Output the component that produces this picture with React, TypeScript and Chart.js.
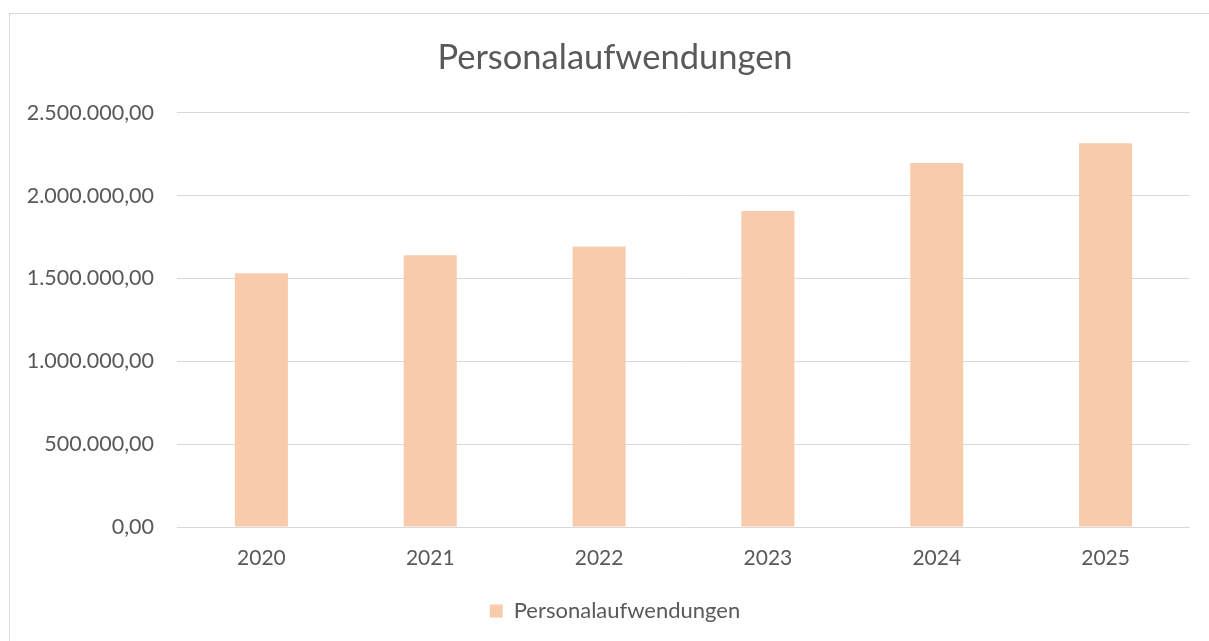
import React, { useEffect, useRef } from "react";
import { Chart, registerables } from "chart.js";

Chart.register(...registerables);

const categories = ["2020", "2021", "2022", "2023", "2024", "2025"];
const seriesName = "Personalaufwendungen";
const values = [1532000, 1641000, 1693000, 1908000, 2198000, 2317000];
const chartTitle = "Personalaufwendungen";

const FONT = "Lato, 'Open Sans', sans-serif";
const TEXT = "#595959";
const GRID = "#d9d9d9";
const BAR = "#f8cbad";

function fmtDE(v: number): string {
  const fixed = Math.abs(v).toFixed(2);
  const [intPart, dec] = fixed.split(".");
  const withDots = intPart.replace(/\B(?=(\d{3})+(?!\d))/g, ".");
  return (v < 0 ? "-" : "") + withDots + "," + dec;
}

export default function App() {
  const ref = useRef<HTMLCanvasElement | null>(null);

  useEffect(() => {
    if (!ref.current) return;
    const chart = new Chart(ref.current, {
      type: "bar",
      data: {
        labels: categories,
        datasets: [
          {
            label: seriesName,
            data: values,
            backgroundColor: BAR,
            borderWidth: 0,
            categoryPercentage: 1,
            barPercentage: 0.314,
          },
        ],
      },
      options: {
        animation: false,
        responsive: false,
        maintainAspectRatio: false,
        layout: { padding: { left: 30, right: 30, top: 0, bottom: 9 } },
        plugins: {
          title: {
            display: true,
            text: chartTitle,
            color: TEXT,
            font: { family: FONT, size: 34.5, weight: "normal" },
            padding: { top: 23, bottom: 34.5 },
          },
          legend: {
            display: true,
            position: "bottom",
            labels: {
              color: TEXT,
              font: { family: FONT, size: 22 },
              boxWidth: 13,
              boxHeight: 13,
              padding: 10,
            },
          },
          tooltip: { enabled: false },
        },
        scales: {
          x: {
            grid: { display: false, drawTicks: false },
            border: { display: false },
            ticks: {
              color: TEXT,
              font: { family: FONT, size: 21 },
              padding: 19,
            },
            afterFit: (scale: any) => {
              scale.height = 63;
            },
          },
          y: {
            min: 0,
            max: 2500000,
            grid: { color: GRID, lineWidth: 1, drawTicks: false },
            border: { display: false },
            ticks: {
              stepSize: 500000,
              color: TEXT,
              font: { family: FONT, size: 21.5 },
              padding: 23,
              callback: (v: any) => fmtDE(Number(v)),
            },
            afterFit: (scale: any) => {
              scale.width = 137;
              // let the tick labels extend into the left layout padding
              scale._computeLabelArea = () => undefined;
            },
          },
        },
      },
    });
    return () => chart.destroy();
  }, []);

  return (
    <div
      style={{
        position: "absolute",
        left: 9,
        top: 13,
        width: 1199,
        height: 627,
        borderTop: "1px solid #d9d9d9",
        borderLeft: "1px solid #d9d9d9",
        background: "#fff",
        overflow: "hidden",
      }}
    >
      <canvas ref={ref} width={1210} height={627} style={{ display: "block" }} />
    </div>
  );
}
